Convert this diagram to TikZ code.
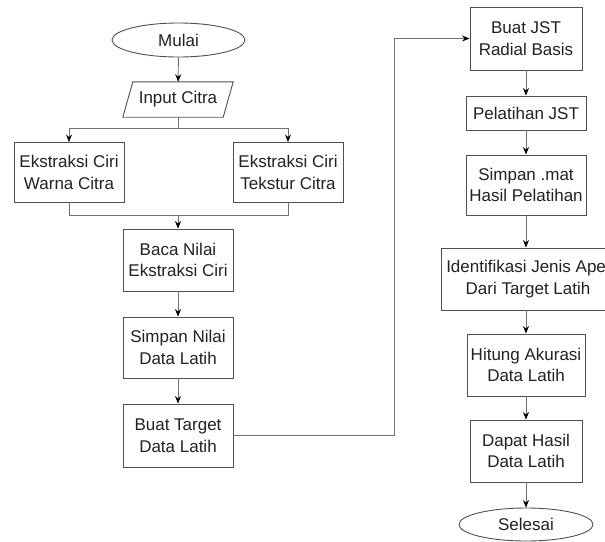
\documentclass[tikz,border=0pt]{standalone}
\usepackage{fontspec}
\setmainfont{Liberation Sans}
\usetikzlibrary{arrows.meta,shapes.geometric}
\definecolor{boxc}{HTML}{505050}
\definecolor{linec}{HTML}{707070}
\definecolor{txtc}{HTML}{222222}
\tikzset{
  bx/.style={draw=boxc, line width=0.9pt, align=center, inner sep=0pt, text=txtc,
    font=\fontsize{17}{21.5}\selectfont},
  term/.style={bx, ellipse},
  plain/.style={inner sep=0pt, align=center, text=txtc, font=\fontsize{17}{21.5}\selectfont},
  ln/.style={draw=linec, line width=0.95pt},
  arr/.style={ln, -{Stealth[length=7.5pt,width=6pt,color=black]}}
}
\begin{document}
\begin{tikzpicture}[x=1pt,y=-1pt]
\clip (0,0) rectangle (605,541);
\fill[white] (0,0) rectangle (605,541);
% left column
\node[term, minimum width=133, minimum height=34] (mulai) at (178.5,40) {Mulai};
\node[plain, minimum width=100, minimum height=35] (input) at (178,99.5) {Input Citra};
\draw[bx] ([xshift=5pt]input.north west) -- ([xshift=5pt]input.north east)
  -- ([xshift=-5pt]input.south east) -- ([xshift=-5pt]input.south west) -- cycle;
\node[bx, minimum width=110, minimum height=60] (warna) at (69,172.5) {Ekstraksi Ciri\\Warna Citra};
\node[bx, minimum width=110, minimum height=60] (tekstur) at (288,172.5) {Ekstraksi Ciri\\Tekstur Citra};
\node[bx, minimum width=110, minimum height=62] (baca) at (178,260) {Baca Nilai\\Ekstraksi Ciri};
\node[bx, minimum width=110, minimum height=61] (simpan) at (178,347.5) {Simpan Nilai\\Data Latih};
\node[bx, minimum width=110, minimum height=63] (target) at (178,435.5) {Buat Target\\Data Latih};
\coordinate (split) at (178,128);
\coordinate (merge) at (178,215);
\coordinate (turn) at (394,0);
% right column
\node[bx, minimum width=112, minimum height=63] (jst) at (526,38.5) {Buat JST\\Radial Basis};
\node[bx, minimum width=120, minimum height=34] (latih) at (526,113) {Pelatihan JST};
\node[bx, minimum width=120, minimum height=60] (mat) at (526,185) {Simpan .mat\\Hasil Pelatihan};
\node[bx, minimum width=174, minimum height=62] (ident) at (528,279) {Identifikasi Jenis Apel\\Dari Target Latih};
\node[bx, minimum width=118, minimum height=62] (akurasi) at (526,365) {Hitung Akurasi\\Data Latih};
\node[bx, minimum width=112, minimum height=62] (hasil) at (526,451) {Dapat Hasil\\Data Latih};
\node[term, minimum width=134, minimum height=33] (selesai) at (526,524.5) {Selesai};
% connectors
\draw[arr] (mulai) -- (input);
\draw[ln] (input.south) -- (split);
\draw[arr] (split) -| (warna.north);
\draw[arr] (split) -| (tekstur.north);
\draw[ln] (warna.south) |- (merge);
\draw[ln] (tekstur.south) |- (merge);
\draw[arr] (merge) -- (baca.north);
\draw[arr] (baca) -- (simpan);
\draw[arr] (simpan) -- (target);
\draw[arr] (target.east) -| (turn |- jst.west) -- (jst.west);
\draw[arr] (jst) -- (latih);
\draw[arr] (latih) -- (mat);
\draw[arr] (mat.south) -- (mat.south |- ident.north);
\draw[arr] (akurasi.north |- ident.south) -- (akurasi.north);
\draw[arr] (akurasi) -- (hasil);
\draw[arr] (hasil) -- (selesai);
\end{tikzpicture}
\end{document}
